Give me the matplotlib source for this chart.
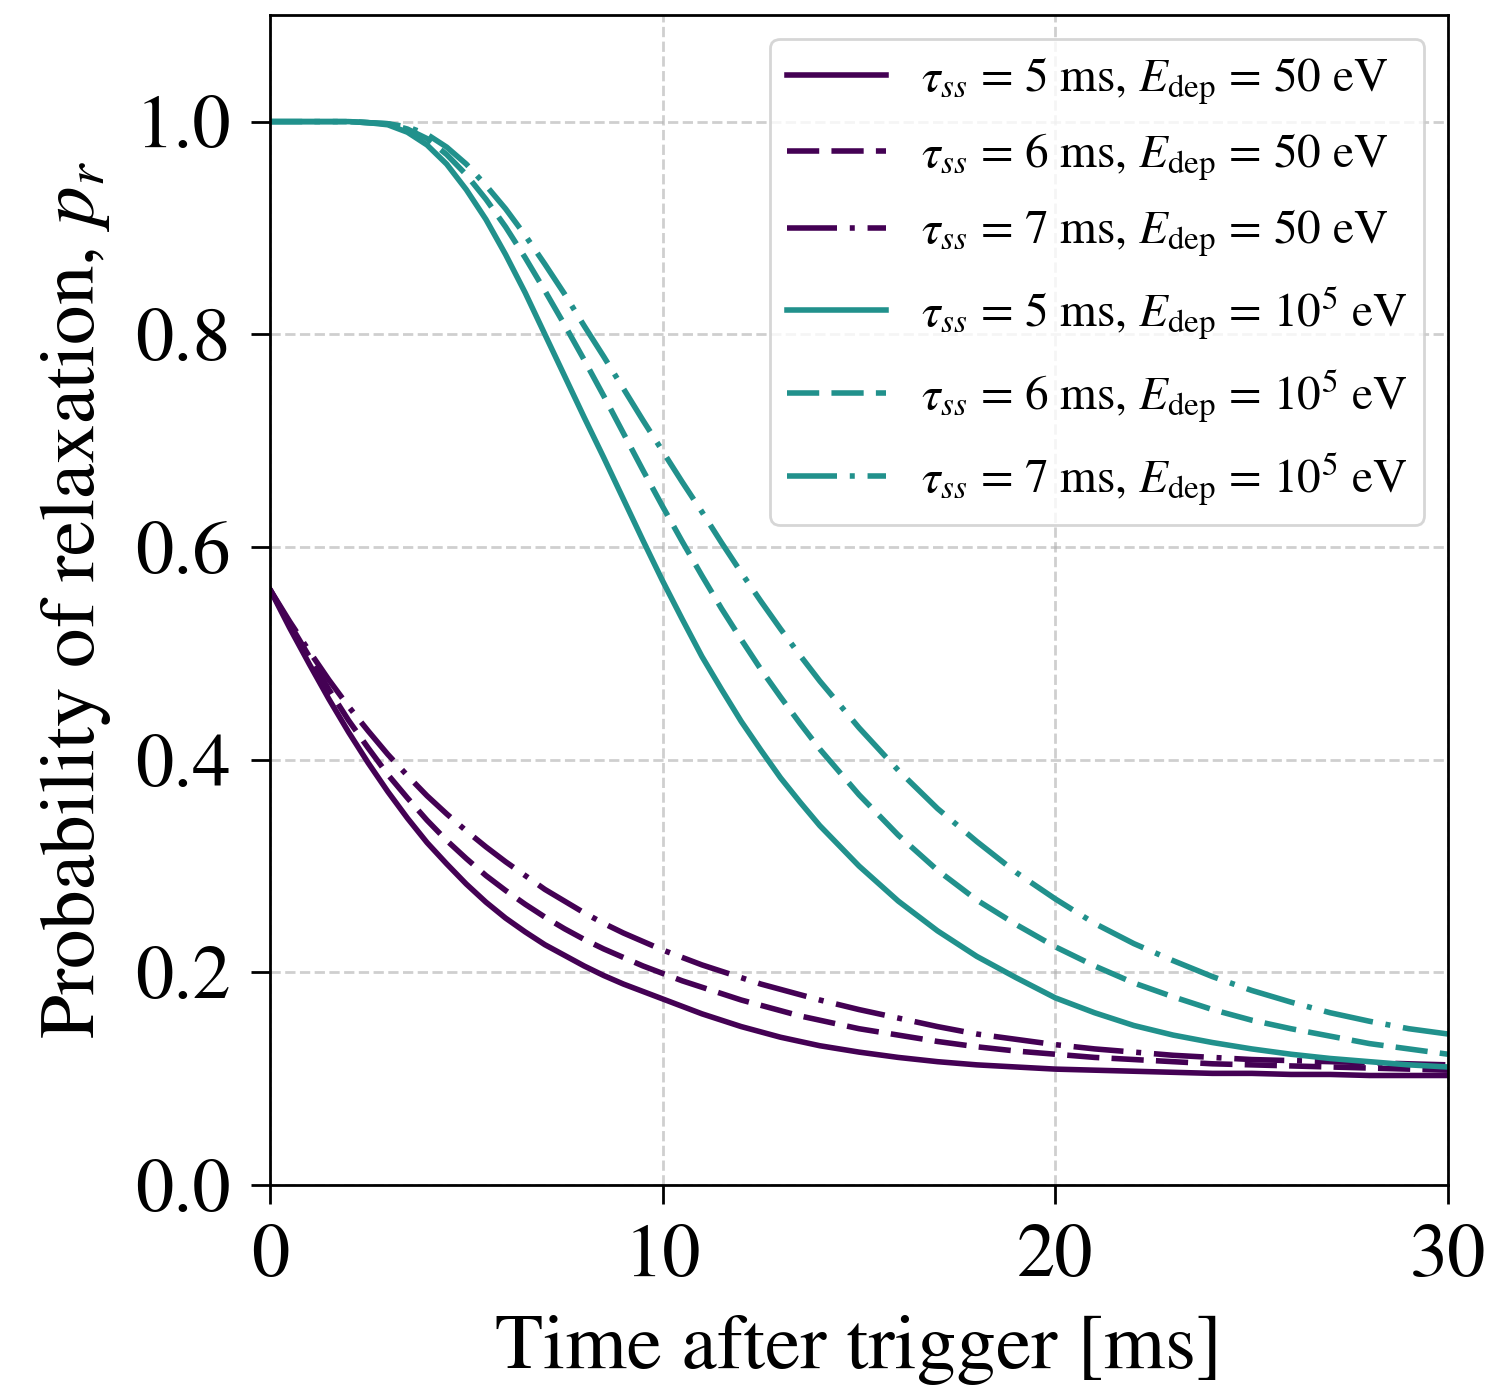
import matplotlib
matplotlib.use("Agg")
import matplotlib.pyplot as plt

plt.rcParams['font.family'] = ['STIXGeneral', 'DejaVu Serif']
plt.rcParams['mathtext.fontset'] = 'stix'

# time axis [ms]
t = [0, 0.5, 1, 1.5, 2, 2.5, 3, 3.5, 4, 4.5, 5, 5.5, 6, 6.5, 7, 7.5, 8, 8.5, 9, 9.5, 10,
     10.5, 11, 11.5, 12, 12.5, 13, 13.5, 14,
     15, 16, 17, 18, 19, 20, 21, 22, 23, 24, 25, 26, 27, 28, 29, 30]

# E_dep = 50 eV
p_50_tau5 = [0.560, 0.524, 0.490, 0.457, 0.426, 0.397, 0.370, 0.345, 0.322, 0.302, 0.283,
             0.266, 0.251, 0.238, 0.226, 0.216, 0.206, 0.197, 0.189, 0.182, 0.175,
             0.168, 0.161, 0.155, 0.149, 0.144, 0.139, 0.135, 0.131,
             0.125, 0.120, 0.116, 0.113, 0.111, 0.109,
             0.108, 0.107, 0.106, 0.105, 0.105, 0.104, 0.104, 0.103, 0.103, 0.103]
p_50_tau6 = [0.560, 0.528, 0.497, 0.466, 0.437, 0.411, 0.386, 0.364, 0.343, 0.324, 0.307,
             0.291, 0.277, 0.264, 0.252, 0.241, 0.231, 0.222, 0.214, 0.206, 0.199,
             0.192, 0.186, 0.180, 0.174, 0.169, 0.164, 0.159, 0.155,
             0.147, 0.141, 0.135, 0.130, 0.126, 0.123,
             0.120, 0.118, 0.116, 0.114, 0.113, 0.112, 0.111, 0.110, 0.109, 0.108]
p_50_tau7 = [0.560, 0.530, 0.502, 0.475, 0.450, 0.427, 0.405, 0.385, 0.366, 0.349, 0.333,
             0.318, 0.304, 0.291, 0.278, 0.267, 0.256, 0.246, 0.237, 0.229, 0.221,
             0.214, 0.207, 0.201, 0.195, 0.189, 0.184, 0.179, 0.174,
             0.165, 0.157, 0.149, 0.142, 0.137, 0.132,
             0.128, 0.125, 0.122, 0.120, 0.118, 0.117, 0.116, 0.115, 0.114, 0.113]

# E_dep = 1e5 eV
p_1e5_tau5 = [1.000, 1.000, 1.000, 1.000, 1.000, 0.999, 0.997, 0.990, 0.978, 0.960, 0.936,
              0.908, 0.875, 0.839, 0.800, 0.761, 0.722, 0.684, 0.645, 0.606, 0.568,
              0.532, 0.497, 0.466, 0.436, 0.409, 0.383, 0.360, 0.338,
              0.300, 0.267, 0.239, 0.215, 0.195, 0.176,
              0.162, 0.150, 0.141, 0.134, 0.128, 0.123, 0.119, 0.116, 0.113, 0.111]
p_1e5_tau6 = [1.000, 1.000, 1.000, 1.000, 1.000, 0.999, 0.998, 0.993, 0.984, 0.969, 0.950,
              0.927, 0.901, 0.872, 0.841, 0.809, 0.776, 0.742, 0.707, 0.672, 0.638,
              0.605, 0.573, 0.542, 0.513, 0.485, 0.459, 0.434, 0.410,
              0.367, 0.329, 0.296, 0.268, 0.245, 0.224,
              0.206, 0.190, 0.177, 0.165, 0.155, 0.147, 0.140, 0.133, 0.128, 0.123]
p_1e5_tau7 = [1.000, 1.000, 1.000, 1.000, 1.000, 0.999, 0.998, 0.995, 0.988, 0.976, 0.960,
              0.940, 0.918, 0.893, 0.866, 0.838, 0.808, 0.779, 0.749, 0.719, 0.690,
              0.661, 0.633, 0.604, 0.576, 0.549, 0.523, 0.498, 0.474,
              0.430, 0.390, 0.354, 0.323, 0.294, 0.269,
              0.246, 0.227, 0.211, 0.196, 0.183, 0.172, 0.162, 0.154, 0.147, 0.142]

labels = [r'$\tau_{ss}$ = 5 ms, $E_{\mathrm{dep}}$ = 50 eV',
          r'$\tau_{ss}$ = 6 ms, $E_{\mathrm{dep}}$ = 50 eV',
          r'$\tau_{ss}$ = 7 ms, $E_{\mathrm{dep}}$ = 50 eV',
          r'$\tau_{ss}$ = 5 ms, $E_{\mathrm{dep}}$ = 10$^5$ eV',
          r'$\tau_{ss}$ = 6 ms, $E_{\mathrm{dep}}$ = 10$^5$ eV',
          r'$\tau_{ss}$ = 7 ms, $E_{\mathrm{dep}}$ = 10$^5$ eV']

purple = '#440154'
teal = '#21918c'
styles = ['solid', (0, (5.8, 2.2)), (0, (9.0, 2.3, 0.9, 2.3))]

fig = plt.figure(figsize=(14.85, 13.86), dpi=100)
ax = fig.add_axes([0.1818, 0.145, 0.9751 - 0.1818, 0.989 - 0.145])

series = [p_50_tau5, p_50_tau6, p_50_tau7, p_1e5_tau5, p_1e5_tau6, p_1e5_tau7]
for i, (y, lab) in enumerate(zip(series, labels)):
    col = purple if i < 3 else teal
    ax.plot(t, y, color=col, linestyle=styles[i % 3], lw=4, label=lab)

ax.set_xlim(0, 30)
ax.set_ylim(0, 1.1)
ax.set_xticks([0, 10, 20, 30])
ax.set_yticks([0.0, 0.2, 0.4, 0.6, 0.8, 1.0])
ax.set_yticklabels(['0.0', '0.2', '0.4', '0.6', '0.8', '1.0'])
ax.grid(True, linestyle='--', color='#b0b0b0', alpha=0.6, lw=2)
for s in ax.spines.values():
    s.set_linewidth(2)
ax.tick_params(axis='both', labelsize=55, length=14, width=2, pad=14)

ax.set_xlabel('Time after trigger [ms]', fontsize=57, labelpad=16)
ax.set_ylabel(r'Probability of relaxation, $p_r$', fontsize=57, labelpad=16)

leg = ax.legend(loc='upper right', fontsize=34, handlelength=2.1, handletextpad=0.75,
                labelspacing=0.53, borderpad=0.35, framealpha=0.8, fancybox=True)
leg.get_frame().set_linewidth(2)

fig.savefig('out.png', dpi=100)
